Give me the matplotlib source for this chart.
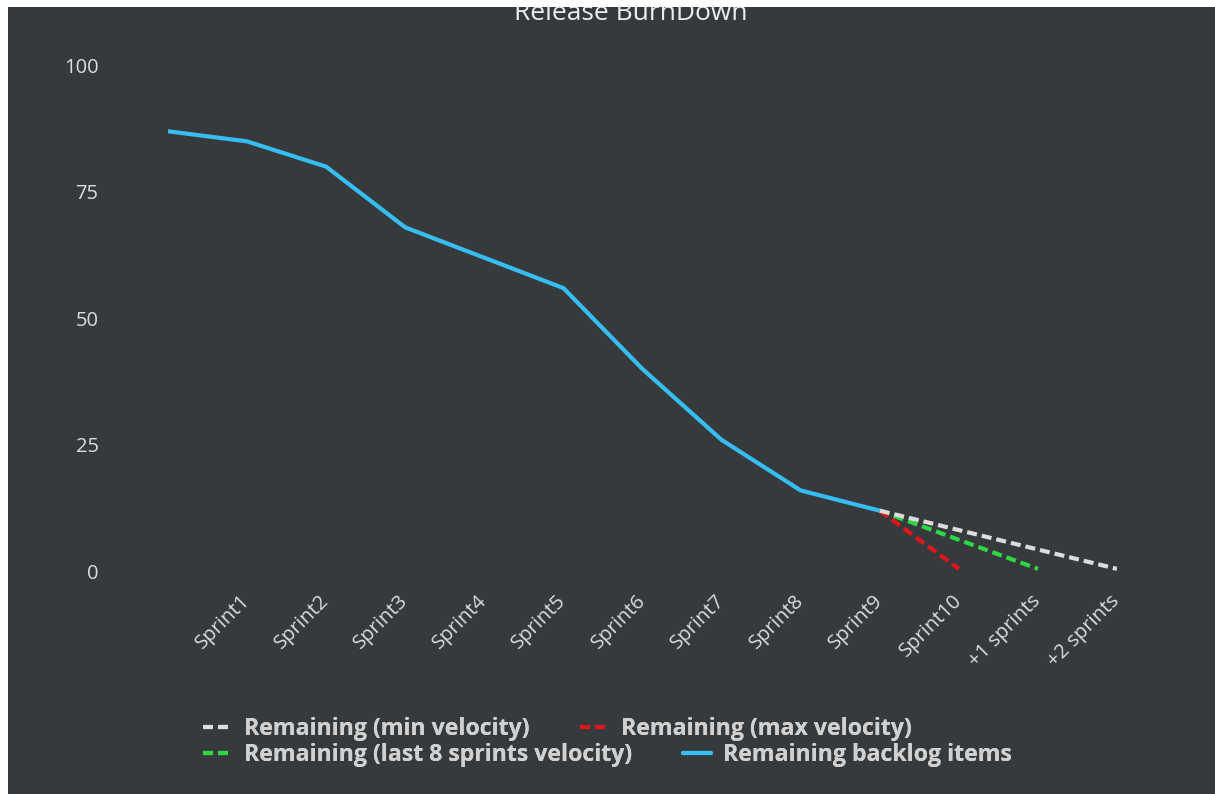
import matplotlib
matplotlib.use('Agg')
import matplotlib.pyplot as plt
from matplotlib.patches import Rectangle

# Data
categories = ['', 'Sprint1', 'Sprint2', 'Sprint3', 'Sprint4', 'Sprint5', 'Sprint6',
              'Sprint7', 'Sprint8', 'Sprint9', 'Sprint10', '+1 sprints', '+2 sprints']
backlog = [87, 85, 80, 68, 62, 56, 40, 26, 16, 12]
min_velocity = [12, 8.17, 4.33, 0.5]
max_velocity = [12, 0.5]
last8_velocity = [12, 6.25, 0.5]

# Style
bg = '#363a3d'
txt = '#dcdcdc'
c_blue = '#36bdf2'
c_white = '#dcdcdc'
c_red = '#e0161d'
c_green = '#2ed842'

W, H = 1215, 794
fig = plt.figure(figsize=(W / 100, H / 100), dpi=100, facecolor=bg)
ax = fig.add_axes([168 / W, 1 - 571.4 / H, (1117 - 168) / W, (571.4 - 65.5) / H])
ax.set_facecolor(bg)

x_backlog = list(range(len(backlog)))
start = len(backlog) - 1
ax.plot(x_backlog, backlog, color=c_blue, lw=3, solid_capstyle='round', zorder=2,
        label='Remaining backlog items')
ax.plot(range(start, start + len(last8_velocity)), last8_velocity, color=c_green, lw=3,
        dashes=(2.4, 1.2), dash_capstyle='butt', zorder=3, label='Remaining (last 8 sprints velocity)')
ax.plot(range(start, start + len(max_velocity)), max_velocity, color=c_red, lw=3,
        dashes=(2.4, 1.2), dash_capstyle='butt', zorder=4, label='Remaining (max velocity)')
ax.plot(range(start, start + len(min_velocity)), min_velocity, color=c_white, lw=3,
        dashes=(2.4, 1.2), dash_capstyle='butt', zorder=5, label='Remaining (min velocity)')

ax.set_xlim(0, len(categories) - 1)
ax.set_ylim(0, 100)
ax.set_yticks([0, 25, 50, 75, 100])
ax.set_xticks(range(len(categories)))
ax.set_xticklabels(categories, rotation=45, ha='right', va='center', rotation_mode='anchor')
for s in ax.spines.values():
    s.set_visible(False)
ax.tick_params(axis='y', length=0, pad=50, labelsize=14.5, labelcolor=txt)
ax.tick_params(axis='x', length=0, pad=19, labelsize=14.5, labelcolor=txt)
for lab in ax.get_xticklabels() + ax.get_yticklabels():
    lab.set_fontfamily('Open Sans')

# Title (top is clipped by white strip)
fig.text(631 / W, 1 - 20 / H, 'Release BurnDown', ha='center', va='baseline',
         fontsize=19, color='#eeeeee', family='Open Sans')

# Legend in two rows
h = {l.get_label(): l for l in ax.get_lines()}
rows = [
    (['Remaining (min velocity)', 'Remaining (max velocity)'], 729),
    (['Remaining (last 8 sprints velocity)', 'Remaining backlog items'], 755),
]
for labels, ypx in rows:
    leg = fig.legend([h[k] for k in labels], labels, loc='center left',
                     bbox_to_anchor=(203 / W, 1 - ypx / H), ncol=2, frameon=False,
                     borderpad=0, borderaxespad=0, handlelength=1.2, handletextpad=0.55,
                     columnspacing=2.2,
                     prop={'family': 'Open Sans', 'weight': 'bold', 'size': 16.7})
    for t in leg.get_texts():
        t.set_color('#d0d0d0')
    fig.add_artist(leg)

# White strips at the top and left edge
fig.add_artist(Rectangle((0, 1 - 7 / H), 1, 7 / H, transform=fig.transFigure,
                         facecolor='white', edgecolor='none', zorder=100))
fig.add_artist(Rectangle((0, 0), 8 / W, 1, transform=fig.transFigure,
                         facecolor='white', edgecolor='none', zorder=100))

fig.savefig('out.png', dpi=100, facecolor=bg)
